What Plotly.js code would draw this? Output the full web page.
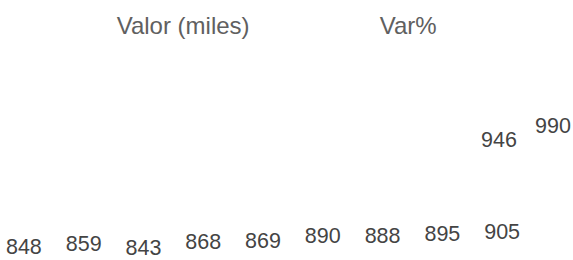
<!DOCTYPE html>
<html><head><meta charset="utf-8">
<script src="https://cdn.plot.ly/plotly-3.0.1.min.js"></script>
<style>html,body{margin:0;padding:0;background:#fff}#chart{width:573px;height:260px}</style>
</head><body><div id="chart"></div>
<script>
const valorPeriods = ['1','2','3','4','5','6','7','8','9'];
const valorValues = [848, 859, 843, 868, 869, 890, 888, 895, 905];
const varPeriods = ['10','11'];
const varValues = [946, 990];
const seriesNames = ['Valor (miles)', 'Var%'];

const FONT = '"Liberation Sans", Arial, Helvetica, sans-serif';
const labelFont = {family: FONT, size: 21.5, color: '#444'};

const common = {
  type: 'bar',
  textposition: 'inside',
  insidetextanchor: 'end',
  textangle: 0,
  constraintext: 'none',
  marker: {color: 'rgba(0,0,0,0)', line: {width: 0}},
  textfont: labelFont,
  insidetextfont: labelFont,
  hoverinfo: 'skip'
};

const traces = [
  Object.assign({}, common, {
    name: seriesNames[0], x: valorPeriods, y: valorValues, legendwidth: 218,
    text: valorValues.map(String), xaxis: 'x', yaxis: 'y'
  }),
  Object.assign({}, common, {
    name: seriesNames[1], x: varPeriods, y: varValues, legendwidth: 60,
    text: varValues.map(String), xaxis: 'x2', yaxis: 'y2'
  })
];

const layout = {
  width: 573, height: 260,
  margin: {l: 0, r: 0, t: 0, b: 0},
  paper_bgcolor: '#fff', plot_bgcolor: '#fff',
  font: {family: FONT, color: '#444'},
  bargap: 0.1,
  showlegend: true,
  legend: {
    orientation: 'h', x: 76.7/573, xanchor: 'left', y: 1 - 3/260, yanchor: 'top',
    font: {family: FONT, size: 24, color: '#606060'},
    entrywidthmode: 'pixels',
    bgcolor: 'rgba(0,0,0,0)', borderwidth: 0
  },
  xaxis: {type: 'category', range: [-0.40, 9.185], visible: false, fixedrange: true},
  yaxis: {range: [744.5, 1703.9], visible: false, fixedrange: true},
  xaxis2: {type: 'category', overlaying: 'x', anchor: 'y2', range: [-9.241, 1.370], visible: false, fixedrange: true},
  yaxis2: {overlaying: 'y', anchor: 'x2', range: [506.2, 1353.2], visible: false, fixedrange: true}
};

Plotly.newPlot('chart', traces, layout, {staticPlot: true, displayModeBar: false});
</script>
</body></html>
